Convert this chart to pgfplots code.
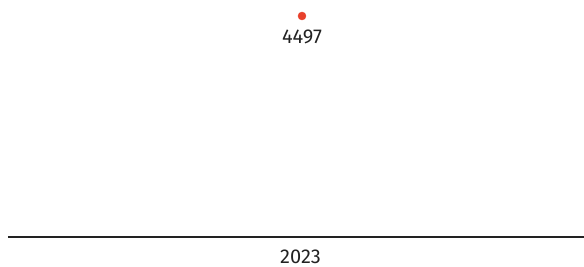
\documentclass[border=0pt]{standalone}
\usepackage{pgfplots}
\pgfplotsset{compat=1.18}
\usepackage{fontspec}
\setmainfont{Fira Sans}
\definecolor{dotred}{HTML}{E8412C}
\definecolor{axisdark}{HTML}{222222}
\begin{document}
\begin{tikzpicture}
\begin{axis}[
  scale only axis,
  width=576pt, height=221pt,
  xmin=-0.5104, xmax=0.4896,
  ymin=0, ymax=4497,
  clip=false,
  axis y line=none,
  axis x line*=bottom,
  x axis line style={-, line width=1.8pt, color=axisdark},
  xtick={0}, xticklabels={2023},
  major tick length=0pt,
  ytick=\empty,
  tick label style={font=\fontsize{20}{22}\selectfont, text=axisdark},
  xticklabel style={inner sep=0pt, yshift=-13pt, xshift=-1.5pt},
  nodes near coords,
  nodes near coords style={anchor=north, yshift=-10pt, font=\fontsize{20}{22}\selectfont, text=axisdark},
  point meta=y,
  /pgf/number format/.cd, 1000 sep={}, assume math mode=true,
]
\addplot[only marks, mark=*, mark size=4pt, color=dotred] coordinates {(0,4497)};
\end{axis}
\pgfresetboundingbox
\path[use as bounding box] (-8pt,-30pt) rectangle (576pt,237pt);
\end{tikzpicture}
\end{document}
